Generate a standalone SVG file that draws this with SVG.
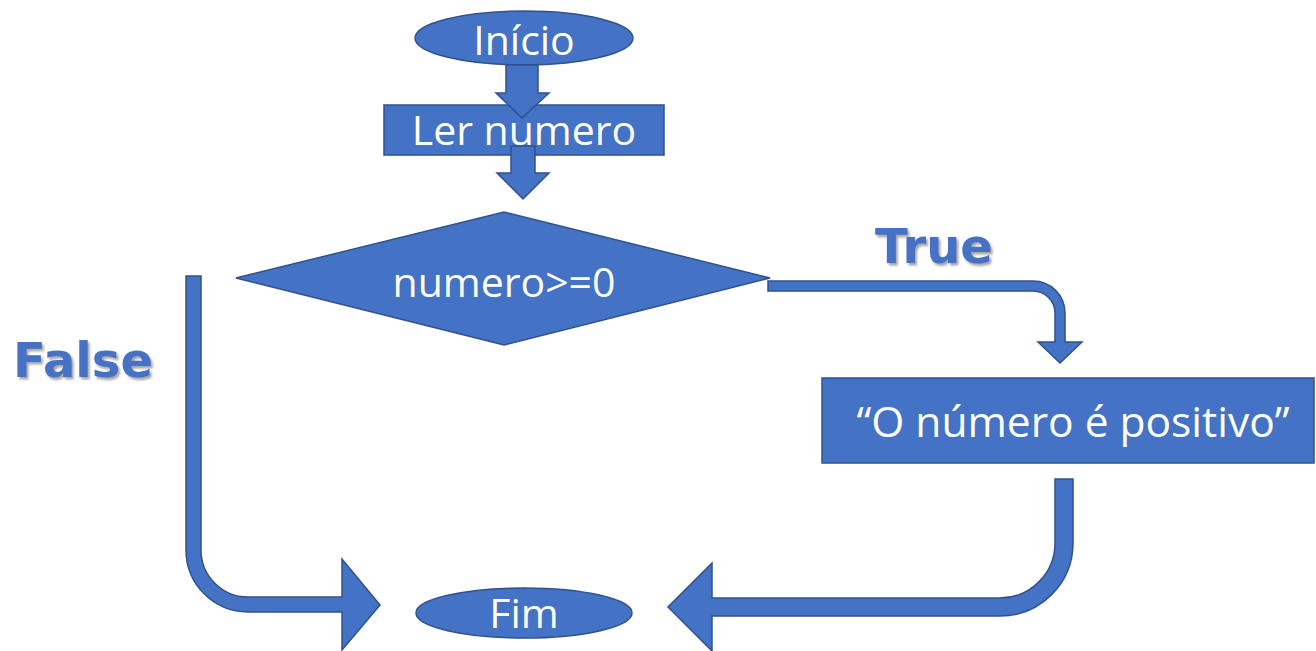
<svg xmlns="http://www.w3.org/2000/svg" width="1316" height="651" viewBox="0 0 1316 651">
  <defs>
    <filter id="softShadow" x="-10%" y="-20%" width="130%" height="150%">
      <feDropShadow dx="2" dy="2.5" stdDeviation="1.2" flood-color="#7f7f7f" flood-opacity="0.7"/>
    </filter>
  </defs>
  <style>
    .shape { fill: #4472C4; stroke: #2F528F; stroke-width: 1.5; }
    .label { fill: #ffffff; font-family: "Open Sans", "Noto Sans", sans-serif; font-size: 41px; text-anchor: middle; }
    .branch { fill: #4472C4; font-family: "DejaVu Sans", Verdana, sans-serif; font-weight: bold; font-size: 48px; filter: url(#softShadow); }
  </style>
  <rect width="1316" height="651" fill="#ffffff"/>

  <!-- flowchart nodes -->
  <g id="node-inicio">
    <ellipse class="shape" cx="524" cy="38" rx="109" ry="27"/>
    <text class="label" x="524" y="55">Início</text>
  </g>
  <g id="node-ler">
    <rect class="shape" x="384" y="105" width="280" height="50"/>
    <text class="label" x="524" y="145">Ler numero</text>
  </g>
  <g id="node-decisao">
    <polygon class="shape" points="236,278 504,212 770,278 504,345"/>
    <text class="label" x="504" y="297">numero&gt;=0</text>
  </g>
  <g id="node-positivo">
    <rect class="shape" x="822" y="378" width="492" height="85"/>
    <text class="label" x="1073" y="437" style="font-size:42.5px">“O número é positivo”</text>
  </g>
  <g id="node-fim">
    <ellipse class="shape" cx="524" cy="613" rx="108" ry="25"/>
    <text class="label" x="524" y="628">Fim</text>
  </g>

  <!-- block arrows between steps -->
  <g id="connectors">
    <polygon class="shape" points="506,65 538,65 538,93 549,93 522,118 496,93 506,93"/>
    <polygon class="shape" points="511,146 535,146 535,173 549,173 523,199 497,173 511,173"/>
    <path class="shape" d="M768,281 L1033,281 A32,32 0 0 1 1065,313 L1065,342 L1082,342 L1060,363 L1038,342 L1055,342 L1055,313 A22,22 0 0 0 1033,291 L768,291 Z"/>
    <path class="shape" d="M186,276 L186,550 A62,62 0 0 0 248,612 L342,612 L342,650 L380,605 L342,559 L342,597 L248,597 A47,47 0 0 1 201,550 L201,276 Z"/>
    <path class="shape" d="M1055,479 L1073,479 L1073,543 A73,73 0 0 1 1000,616 L712,616 L712,651 L668,607 L712,563 L712,598 L1000,598 A55,55 0 0 0 1055,543 Z"/>
  </g>

  <!-- branch labels -->
  <g id="labels">
    <text class="branch" x="875" y="263">True</text>
    <text class="branch" x="13" y="377">False</text>
  </g>
</svg>
